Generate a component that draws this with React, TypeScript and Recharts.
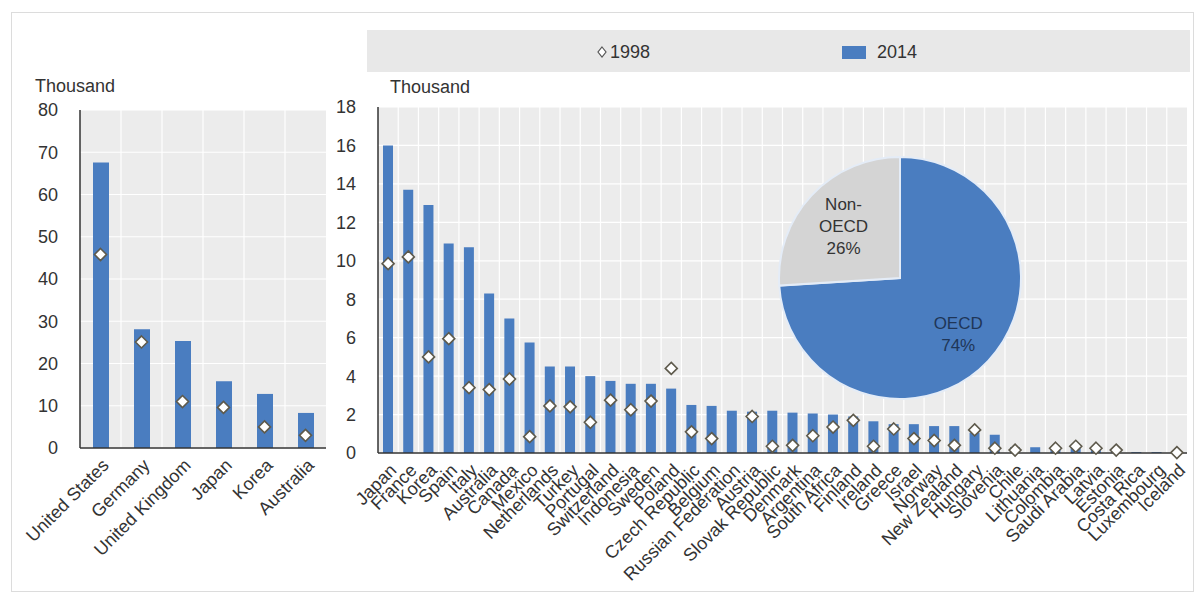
import React from 'react';
import { ComposedChart, Bar, Line, XAxis, YAxis, CartesianGrid, PieChart, Pie, Cell } from 'recharts';

const leftCountries = ['United States', 'Germany', 'United Kingdom', 'Japan', 'Korea', 'Australia'];
const left2014 = [67.6, 28.1, 25.3, 15.8, 12.8, 8.3];
const left1998 = [45.8, 25.1, 11.0, 9.6, 5.0, 3.0];
const leftTicks = [0, 10, 20, 30, 40, 50, 60, 70, 80];

const rightCountries = [
  'Japan', 'France', 'Korea', 'Spain', 'Italy', 'Australia', 'Canada', 'Mexico', 'Netherlands', 'Turkey',
  'Portugal', 'Switzerland', 'Indonesia', 'Sweden', 'Poland', 'Czech Republic', 'Belgium', 'Russian Federation', 'Austria', 'Slovak Republic',
  'Denmark', 'Argentina', 'South Africa', 'Finland', 'Ireland', 'Greece', 'Israel', 'Norway', 'New Zealand', 'Hungary',
  'Slovenia', 'Chile', 'Lithuania', 'Colombia', 'Saudi Arabia', 'Latvia', 'Estonia', 'Costa Rica', 'Luxembourg', 'Iceland',
];
const right2014 = [
  16.0, 13.7, 12.9, 10.9, 10.7, 8.3, 7.0, 5.75, 4.5, 4.5,
  4.0, 3.75, 3.6, 3.6, 3.35, 2.5, 2.45, 2.2, 2.15, 2.2,
  2.1, 2.05, 2.0, 1.9, 1.65, 1.5, 1.5, 1.4, 1.4, 1.05,
  0.95, 0.3, 0.3, 0.25, 0.25, 0.2, 0.15, 0.05, 0.05, 0.05,
];
const right1998: (number | null)[] = [
  9.85, 10.2, 5.0, 5.95, 3.4, 3.3, 3.85, 0.85, 2.45, 2.4,
  1.6, 2.75, 2.25, 2.7, 4.4, 1.1, 0.75, null, 1.9, 0.35,
  0.4, 0.9, 1.35, 1.7, 0.35, 1.25, 0.75, 0.65, 0.4, 1.2,
  0.25, 0.15, null, 0.25, 0.35, 0.25, 0.15, null, null, 0.02,
];
const rightTicks = [0, 2, 4, 6, 8, 10, 12, 14, 16, 18];

const pieNames = ['OECD', 'Non-OECD'];
const pieShares = [74, 26];

const BLUE = '#4a7dc0';
const GRAY_PIE = '#d4d4d4';
const PLOT_BG = '#ececec';
const TEXT = '#333333';
const FONT = '"Liberation Sans", Arial, Helvetica, sans-serif';

const leftData = leftCountries.map((c, i) => ({ name: c, v2014: left2014[i], v1998: left1998[i] }));
const rightData = rightCountries.map((c, i) => ({ name: c, v2014: right2014[i], v1998: right1998[i] }));
const pieData = pieNames.map((n, i) => ({ name: n, value: pieShares[i] }));

const renderDiamond = (props: any) => {
  const { cx, cy, value, index } = props;
  if (cx == null || cy == null || value == null) return <g key={`e-${index}`} />;
  const s = 6;
  return (
    <path
      key={`d-${index}`}
      d={`M${cx},${cy - s} L${cx + s},${cy} L${cx},${cy + s} L${cx - s},${cy} Z`}
      fill="#ffffff"
      stroke="#5e5a4c"
      strokeWidth={1.6}
    />
  );
};

const AngledTick = (props: any) => {
  const { x, y, payload } = props;
  return (
    <g transform={`translate(${x + 5},${y + 6}) rotate(-45)`}>
      <text textAnchor="end" dy="0.35em" fill={TEXT} fontSize={18} fontFamily={FONT}>
        {payload.value}
      </text>
    </g>
  );
};

const boundaryGen = (n: number) => (props: any) => {
  const off = props.offset;
  const out: number[] = [];
  for (let i = 1; i < n; i++) out.push(off.left + (off.width * i) / n);
  return out;
};

const renderPieLabel = (props: any) => {
  const { cx, cy, midAngle, outerRadius, index } = props;
  const RAD = Math.PI / 180;
  const f = index === 0 ? 0.66 : 0.64;
  const x = cx + outerRadius * f * Math.cos(-midAngle * RAD);
  const y = cy + outerRadius * f * Math.sin(-midAngle * RAD);
  if (index === 0) {
    return (
      <text key="l0" x={x} y={y} textAnchor="middle" fill="#1f3658" fontSize={17} fontFamily={FONT}>
        <tspan x={x} dy="-0.2em">OECD</tspan>
        <tspan x={x} dy="1.3em">74%</tspan>
      </text>
    );
  }
  return (
    <text key="l1" x={x} y={y} textAnchor="middle" fill={TEXT} fontSize={17} fontFamily={FONT}>
      <tspan x={x} dy="-0.9em">Non-</tspan>
      <tspan x={x} dy="1.3em">OECD</tspan>
      <tspan x={x} dy="1.3em">26%</tspan>
    </text>
  );
};

export default function App() {
  return (
    <div style={{ position: 'absolute', left: 0, top: 0, width: 1200, height: 596, background: '#fff', overflow: 'hidden', fontFamily: FONT }}>
      <div style={{ position: 'absolute', left: 11, top: 12, width: 1183, height: 580, border: '1px solid #dcdcdc', boxSizing: 'border-box' }} />

      {/* Legend */}
      <div style={{ position: 'absolute', left: 367, top: 30, width: 823, height: 42, background: '#e8e8e8' }}>
        <svg width={823} height={42} style={{ position: 'absolute', left: 0, top: 0 }}>
          <path d="M235,17 L239,22 L235,27 L231,22 Z" fill="#fff" stroke="#555" strokeWidth={1.2} />
          <text x={243} y={28} fontSize={18} fill={TEXT} fontFamily={FONT}>1998</text>
          <rect x={475} y={16} width={24} height={13} fill={BLUE} />
          <text x={510} y={28} fontSize={18} fill={TEXT} fontFamily={FONT}>2014</text>
        </svg>
      </div>

      <div style={{ position: 'absolute', left: 35, top: 76, fontSize: 18, color: TEXT }}>Thousand</div>
      <div style={{ position: 'absolute', left: 390, top: 77, fontSize: 18, color: TEXT }}>Thousand</div>

      {/* Left chart */}
      <div style={{ position: 'absolute', left: 0, top: 0 }}>
        <ComposedChart width={340} height={596} data={leftData} margin={{ top: 110, right: 14, bottom: 0, left: 0 }}>
          <CartesianGrid fill={PLOT_BG} stroke="#ffffff" strokeWidth={1.2} verticalCoordinatesGenerator={boundaryGen(leftData.length)} />
          <XAxis dataKey="name" interval={0} height={148} tick={<AngledTick />} tickLine={false} axisLine={{ stroke: '#333', strokeWidth: 1.5 }} />
          <YAxis width={80} domain={[0, 80]} ticks={leftTicks} tickLine={false} tickSize={8} tickMargin={14}
            axisLine={{ stroke: '#333', strokeWidth: 1.5 }} tick={{ fill: TEXT, fontSize: 18, fontFamily: FONT }} />
          <Bar dataKey="v2014" fill={BLUE} barSize={16} isAnimationActive={false} />
          <Line dataKey="v1998" stroke="none" dot={renderDiamond} activeDot={false} isAnimationActive={false} />
        </ComposedChart>
      </div>

      {/* Right chart */}
      <div style={{ position: 'absolute', left: 300, top: 0 }}>
        <ComposedChart width={900} height={596} data={rightData} margin={{ top: 107, right: 13, bottom: 0, left: 0 }}>
          <CartesianGrid fill={PLOT_BG} stroke="#ffffff" strokeWidth={1.2} verticalCoordinatesGenerator={boundaryGen(rightData.length)} />
          <XAxis dataKey="name" interval={0} height={143} tick={<AngledTick />} tickLine={false} axisLine={{ stroke: '#333', strokeWidth: 1.5 }} />
          <YAxis width={78} domain={[0, 18]} ticks={rightTicks} tickLine={false} tickSize={8} tickMargin={14}
            axisLine={{ stroke: '#333', strokeWidth: 1.5 }} tick={{ fill: TEXT, fontSize: 18, fontFamily: FONT }} />
          <Bar dataKey="v2014" fill={BLUE} barSize={10} isAnimationActive={false} />
          <Line dataKey="v1998" stroke="none" dot={renderDiamond} activeDot={false} connectNulls={false} isAnimationActive={false} />
        </ComposedChart>
      </div>

      {/* Pie */}
      <div style={{ position: 'absolute', left: 765, top: 143, pointerEvents: 'none' }}>
        <PieChart width={260} height={260}>
          <Pie data={pieData} dataKey="value" cx={130} cy={130} outerRadius={121} startAngle={90} endAngle={-270}
            labelLine={false} label={renderPieLabel} isAnimationActive={false} stroke="#e4ecf7" strokeWidth={2}>
            <Cell fill={BLUE} />
            <Cell fill={GRAY_PIE} />
          </Pie>
        </PieChart>
      </div>
    </div>
  );
}
